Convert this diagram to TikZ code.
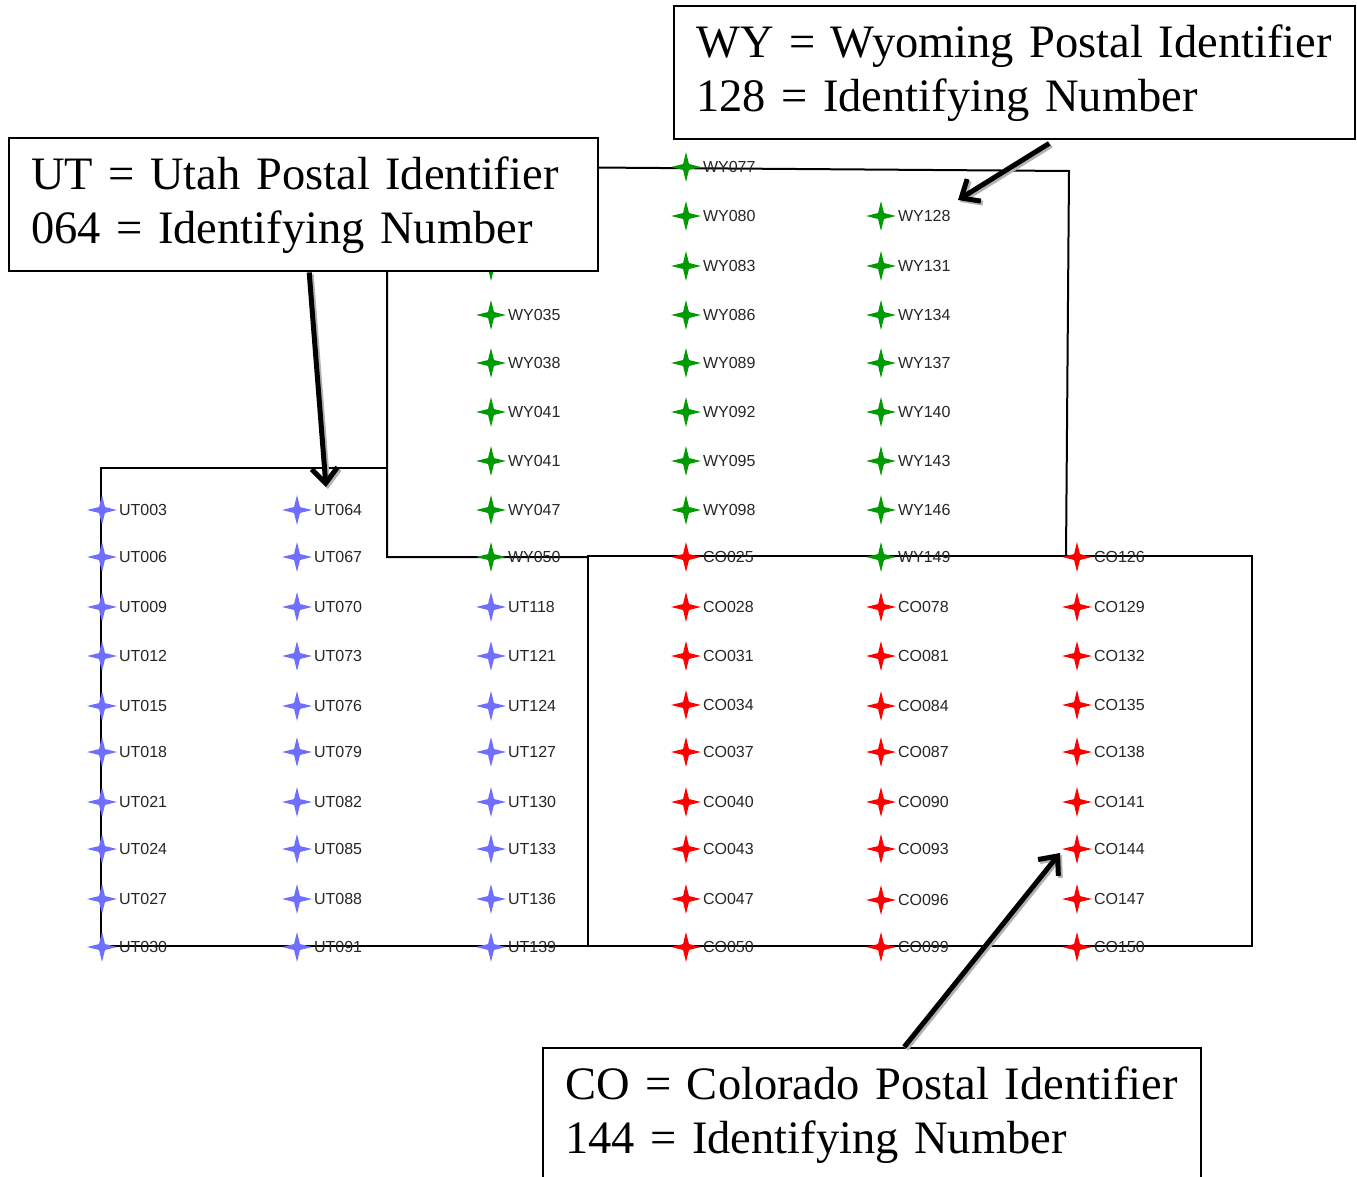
\documentclass[tikz,border=0pt]{standalone}
\usepackage{fontspec}
\setmainfont{Liberation Serif}
\newfontfamily\sitefont{Liberation Sans}
\usetikzlibrary{shapes.geometric,arrows.meta}
\definecolor{utblue}{RGB}{110,110,255}
\definecolor{wygreen}{RGB}{0,155,0}
\definecolor{cored}{RGB}{255,0,0}
\tikzset{
	site/.style={star, star points=4, star point ratio=3.6, minimum size=30pt, inner sep=0pt, label distance=6pt},
	utsite/.style={site, fill=utblue},
	wysite/.style={site, fill=wygreen},
	cosite/.style={site, fill=cored},
	sitelbl/.style={font=\sitefont\fontsize{16}{19}\selectfont, text=black!85, inner sep=1pt},
	region/.style={draw=black, line width=2pt, fill=white},
	callbox/.style={draw=black, line width=2.4pt, fill=white, anchor=north west, align=left, inner xsep=22pt, minimum height=133pt, font=\fontsize{46.5}{54}\selectfont},
	callout/.style={line width=5pt, -{Straight Barb[length=15pt,width=26pt]}}
}
\begin{document}
\begin{tikzpicture}[x=1pt,y=-1pt]
\useasboundingbox (0,0) rectangle (1357,1177);

% regions
	\draw[region] (101,468) rectangle (588,946);
	\draw[region] (387,166) -- (1069,171) -- (1066,557) -- (387,557) -- cycle;
	\draw[region] (588,556) rectangle (1252,946);

% utah sites
	\node[utsite,label={[sitelbl]right:UT003}] (ut003) at (102,510) {};
	\node[utsite,label={[sitelbl]right:UT006}] (ut006) at (102,557) {};
	\node[utsite,label={[sitelbl]right:UT009}] (ut009) at (102,607) {};
	\node[utsite,label={[sitelbl]right:UT012}] (ut012) at (102,656) {};
	\node[utsite,label={[sitelbl]right:UT015}] (ut015) at (102,706) {};
	\node[utsite,label={[sitelbl]right:UT018}] (ut018) at (102,752) {};
	\node[utsite,label={[sitelbl]right:UT021}] (ut021) at (102,802) {};
	\node[utsite,label={[sitelbl]right:UT024}] (ut024) at (102,849) {};
	\node[utsite,label={[sitelbl]right:UT027}] (ut027) at (102,899) {};
	\node[utsite,label={[sitelbl]right:UT030}] (ut030) at (102,947) {};

	\node[utsite,label={[sitelbl]right:UT064}] (ut064) at (297,510) {};
	\node[utsite,label={[sitelbl]right:UT067}] (ut067) at (297,557) {};
	\node[utsite,label={[sitelbl]right:UT070}] (ut070) at (297,607) {};
	\node[utsite,label={[sitelbl]right:UT073}] (ut073) at (297,656) {};
	\node[utsite,label={[sitelbl]right:UT076}] (ut076) at (297,706) {};
	\node[utsite,label={[sitelbl]right:UT079}] (ut079) at (297,752) {};
	\node[utsite,label={[sitelbl]right:UT082}] (ut082) at (297,802) {};
	\node[utsite,label={[sitelbl]right:UT085}] (ut085) at (297,849) {};
	\node[utsite,label={[sitelbl]right:UT088}] (ut088) at (297,899) {};
	\node[utsite,label={[sitelbl]right:UT091}] (ut091) at (297,947) {};

	\node[utsite,label={[sitelbl]right:UT118}] (ut118) at (491,607) {};
	\node[utsite,label={[sitelbl]right:UT121}] (ut121) at (491,656) {};
	\node[utsite,label={[sitelbl]right:UT124}] (ut124) at (491,706) {};
	\node[utsite,label={[sitelbl]right:UT127}] (ut127) at (491,752) {};
	\node[utsite,label={[sitelbl]right:UT130}] (ut130) at (491,802) {};
	\node[utsite,label={[sitelbl]right:UT133}] (ut133) at (491,849) {};
	\node[utsite,label={[sitelbl]right:UT136}] (ut136) at (491,899) {};
	\node[utsite,label={[sitelbl]right:UT139}] (ut139) at (491,947) {};

% wyoming sites
	\node[wysite,label={[sitelbl]right:WY032}] (wy032) at (491,266) {};
	\node[wysite,label={[sitelbl]right:WY035}] (wy035) at (491,315) {};
	\node[wysite,label={[sitelbl]right:WY038}] (wy038) at (491,363) {};
	\node[wysite,label={[sitelbl]right:WY041}] (wy041) at (491,412) {};
	\node[wysite,label={[sitelbl]right:WY041}] (wy044) at (491,461) {};
	\node[wysite,label={[sitelbl]right:WY047}] (wy047) at (491,510) {};
	\node[wysite,label={[sitelbl]right:WY050}] (wy050) at (491,557) {};

	\node[wysite,label={[sitelbl]right:WY077}] (wy077) at (686,167) {};
	\node[wysite,label={[sitelbl]right:WY080}] (wy080) at (686,216) {};
	\node[wysite,label={[sitelbl]right:WY083}] (wy083) at (686,266) {};
	\node[wysite,label={[sitelbl]right:WY086}] (wy086) at (686,315) {};
	\node[wysite,label={[sitelbl]right:WY089}] (wy089) at (686,363) {};
	\node[wysite,label={[sitelbl]right:WY092}] (wy092) at (686,412) {};
	\node[wysite,label={[sitelbl]right:WY095}] (wy095) at (686,461) {};
	\node[wysite,label={[sitelbl]right:WY098}] (wy098) at (686,510) {};

	\node[wysite,label={[sitelbl]right:WY128}] (wy128) at (881,216) {};
	\node[wysite,label={[sitelbl]right:WY131}] (wy131) at (881,266) {};
	\node[wysite,label={[sitelbl]right:WY134}] (wy134) at (881,315) {};
	\node[wysite,label={[sitelbl]right:WY137}] (wy137) at (881,363) {};
	\node[wysite,label={[sitelbl]right:WY140}] (wy140) at (881,412) {};
	\node[wysite,label={[sitelbl]right:WY143}] (wy143) at (881,461) {};
	\node[wysite,label={[sitelbl]right:WY146}] (wy146) at (881,510) {};
	\node[wysite,label={[sitelbl]right:WY149}] (wy149) at (881,557) {};

% colorado sites
	\node[cosite,label={[sitelbl]right:CO025}] (co025) at (686,557) {};
	\node[cosite,label={[sitelbl]right:CO028}] (co028) at (686,607) {};
	\node[cosite,label={[sitelbl]right:CO031}] (co031) at (686,656) {};
	\node[cosite,label={[sitelbl]right:CO034}] (co034) at (686,705) {};
	\node[cosite,label={[sitelbl]right:CO037}] (co037) at (686,752) {};
	\node[cosite,label={[sitelbl]right:CO040}] (co040) at (686,802) {};
	\node[cosite,label={[sitelbl]right:CO043}] (co043) at (686,849) {};
	\node[cosite,label={[sitelbl]right:CO047}] (co047) at (686,899) {};
	\node[cosite,label={[sitelbl]right:CO050}] (co050) at (686,947) {};

	\node[cosite,label={[sitelbl]right:CO078}] (co078) at (881,607) {};
	\node[cosite,label={[sitelbl]right:CO081}] (co081) at (881,656) {};
	\node[cosite,label={[sitelbl]right:CO084}] (co084) at (881,706) {};
	\node[cosite,label={[sitelbl]right:CO087}] (co087) at (881,752) {};
	\node[cosite,label={[sitelbl]right:CO090}] (co090) at (881,802) {};
	\node[cosite,label={[sitelbl]right:CO093}] (co093) at (881,849) {};
	\node[cosite,label={[sitelbl]right:CO096}] (co096) at (881,900) {};
	\node[cosite,label={[sitelbl]right:CO099}] (co099) at (881,947) {};

	\node[cosite,label={[sitelbl]right:CO126}] (co126) at (1077,557) {};
	\node[cosite,label={[sitelbl]right:CO129}] (co129) at (1077,607) {};
	\node[cosite,label={[sitelbl]right:CO132}] (co132) at (1077,656) {};
	\node[cosite,label={[sitelbl]right:CO135}] (co135) at (1077,705) {};
	\node[cosite,label={[sitelbl]right:CO138}] (co138) at (1077,752) {};
	\node[cosite,label={[sitelbl]right:CO141}] (co141) at (1077,802) {};
	\node[cosite,label={[sitelbl]right:CO144}] (co144) at (1077,849) {};
	\node[cosite,label={[sitelbl]right:CO147}] (co147) at (1077,899) {};
	\node[cosite,label={[sitelbl]right:CO150}] (co150) at (1077,947) {};

% legend boxes
	\node[callbox,text width=545pt] (lblUT) at (8,137) {\mbox{UT = Utah Postal Identifier}\\\mbox{064 = Identifying Number}};
	\node[callbox,text width=637pt] (lblWY) at (673,5) {\mbox{WY = Wyoming Postal Identifier}\\\mbox{128 = Identifying Number}};
	\node[callbox,text width=614pt] (lblCO) at (542,1047) {\mbox{CO = Colorado Postal Identifier}\\\mbox{144 = Identifying Number}};

% pointers
	\coordinate (utTip) at (326,487);
	\coordinate (wyTip) at (958,200);
	\coordinate (coTip) at (1060,853);
	\draw[callout,gray!60,transform canvas={shift={(2pt,-2pt)}}] ([xshift=5.5pt]lblUT.south) -- (utTip);
	\draw[callout,gray!60,transform canvas={shift={(2pt,-2pt)}}] ([xshift=34.5pt,yshift=-3pt]lblWY.south) -- (wyTip);
	\draw[callout,gray!60,transform canvas={shift={(2pt,-2pt)}}] ([xshift=32pt]lblCO.north) -- (coTip);
	\draw[callout] ([xshift=5.5pt]lblUT.south) -- (utTip);
	\draw[callout] ([xshift=34.5pt,yshift=-3pt]lblWY.south) -- (wyTip);
	\draw[callout] ([xshift=32pt]lblCO.north) -- (coTip);
\end{tikzpicture}
\end{document}
